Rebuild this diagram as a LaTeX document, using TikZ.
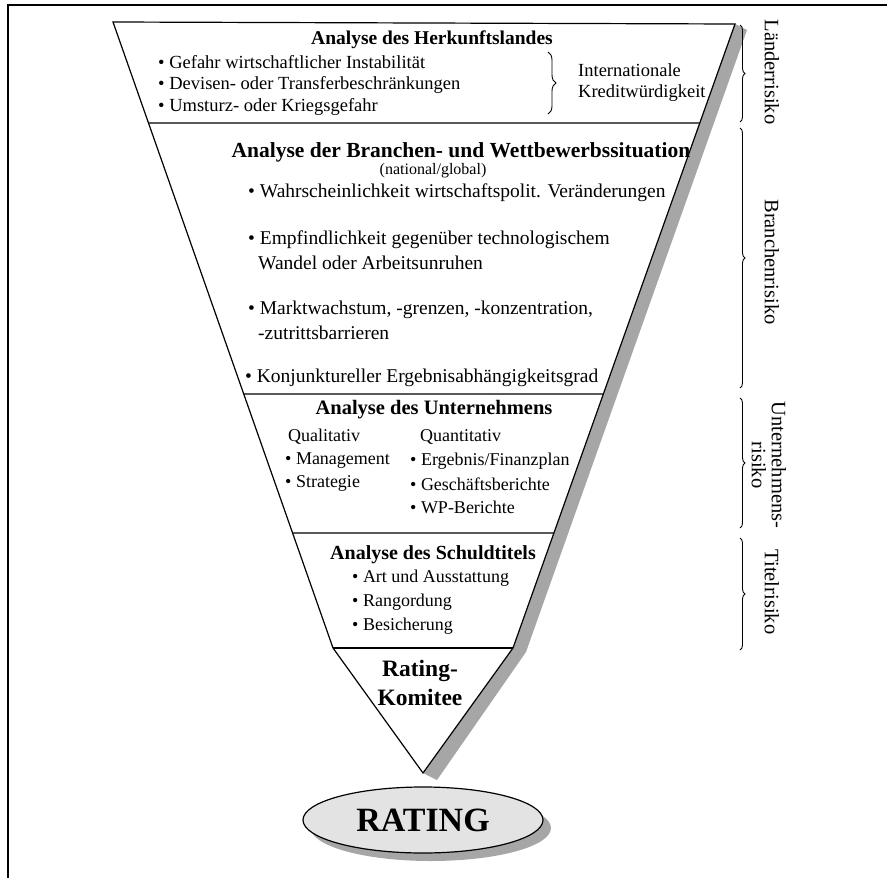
\documentclass[tikz,border=0pt]{standalone}
\usepackage{fontspec}
\setmainfont{Liberation Serif}
\usetikzlibrary{calc,decorations.pathreplacing,shapes.geometric}
\newcommand{\pkt}{\textbullet~}
\tikzset{
  kopf/.style={inner sep=0pt,font=\fontsize{19.5}{22}\selectfont\bfseries},
  punkt/.style={anchor=west,inner sep=0pt,font=\fontsize{18.5}{22}\selectfont},
  punktb/.style={anchor=west,inner sep=0pt,font=\fontsize{19.5}{23}\selectfont},
  seite/.style={rotate=-90,align=center,inner sep=0pt,font=\fontsize{20.5}{20}\selectfont},
  klammer/.style={decorate,decoration={brace,amplitude=5pt},line width=0.9pt},
  linie/.style={line width=1.2pt},
}
\begin{document}
\begin{tikzpicture}[x=1pt,y=-1pt]
  \useasboundingbox (0,0) rectangle (887,878);
  % Rahmen
  \draw[line width=1.3pt] (887,5) -- (8,5) -- (8,878);
  % Trichter mit Schatten
  \coordinate (lo) at (113,22); \coordinate (ro) at (735,24);
  \coordinate (lu) at (333,648); \coordinate (ru) at (513,648);
  \coordinate (sp) at (423,773);
  \fill[gray!70] (ro) -- (747,30) -- (526,652) -- (437,780) -- (sp) -- (ru) -- cycle;
  \draw[linie,fill=white] (lo) -- (ro) -- (ru) -- (sp) -- (lu) -- cycle;
  \foreach \y in {123,394,533}
    \draw[linie] ($(lo)!{(\y-22)/626}!(lu)$) -- ($(ro)!{(\y-24)/624}!(ru)$);
  \draw[linie] (lu) -- (ru);

  % Herkunftsland
  \node[kopf] (land) at (432,40) {Analyse des Herkunftslandes};
  \node[punkt] (l1) at (158,62) {\pkt Gefahr wirtschaftlicher Instabilität};
  \node[punkt] (l2) at (158,85) {\pkt Devisen- oder Transferbeschränkungen};
  \node[punkt] (l3) at (158,107) {\pkt Umsturz- oder Kriegsgefahr};
  \draw[klammer,decoration={amplitude=8pt}] (548,52) -- (548,114);
  \node[punkt] (int) at (578,70) {Internationale};
  \node[punkt] (kred) at (578,93) {Kreditwürdigkeit};

  % Branche
  \node[kopf,font=\fontsize{21.5}{24}\selectfont\bfseries] (branche) at (461,152)
    {Analyse der Branchen- und Wettbewerbssituation};
  \node[inner sep=0pt,font=\fontsize{16}{18}\selectfont] (natgl) at (433,171) {(national/global)};
  \node[punktb] (b1) at (248,193) {\pkt Wahrscheinlichkeit wirtschaftspolit. Veränderungen};
  \node[punktb] (b2) at (248,240) {\pkt Empfindlichkeit gegenüber technologischem};
  \node[punktb] (b2a) at (258,263) {Wandel oder Arbeitsunruhen};
  \node[punktb] (b3) at (248,310) {\pkt Marktwachstum, -grenzen, -konzentration,};
  \node[punktb] (b3a) at (258,333) {-zutrittsbarrieren};
  \node[punktb] (b4) at (245,378) {\pkt Konjunktureller Ergebnisabhängigkeitsgrad};

  % Unternehmen
  \node[kopf,font=\fontsize{20.5}{23}\selectfont\bfseries] (unt) at (434,410) {Analyse des Unternehmens};
  \node[punkt,font=\fontsize{18}{22}\selectfont] (qual) at (288,437) {Qualitativ};
  \node[punkt,font=\fontsize{18}{22}\selectfont] (quan) at (420,437) {Quantitativ};
  \node[punkt,font=\fontsize{18}{22}\selectfont] (u1) at (285,461) {\pkt Management};
  \node[punkt,font=\fontsize{18}{22}\selectfont] (u2) at (285,483) {\pkt Strategie};
  \node[punkt,font=\fontsize{18}{22}\selectfont] (u3) at (410,461) {\pkt Ergebnis/Finanzplan};
  \node[punkt,font=\fontsize{18}{22}\selectfont] (u4) at (410,484) {\pkt Geschäftsberichte};
  \node[punkt,font=\fontsize{18}{22}\selectfont] (u5) at (410,507) {\pkt WP-Berichte};

  % Schuldtitel
  \node[kopf,font=\fontsize{20}{23}\selectfont\bfseries] (titel) at (433,555) {Analyse des Schuldtitels};
  \node[punkt,font=\fontsize{18}{22}\selectfont] (t1) at (352,578) {\pkt Art und Ausstattung};
  \node[punkt,font=\fontsize{18}{22}\selectfont] (t2) at (352,602) {\pkt Rangordung};
  \node[punkt,font=\fontsize{18}{22}\selectfont] (t3) at (352,626) {\pkt Besicherung};

  % Komitee und Rating
  \node[align=center,inner sep=0pt,font=\fontsize{23.5}{29}\selectfont\bfseries] (komitee) at (420,683)
    {Rating-\\Komitee};
  \node[ellipse,fill=gray!70,minimum width=240pt,minimum height=66pt] (schatten) at (431,828) {};
  \node[ellipse,draw,line width=1.2pt,fill=gray!22,minimum width=240pt,minimum height=66pt,
    inner sep=0pt,font=\fontsize{34}{34}\selectfont\bfseries] (rating) at (423,820) {RATING};

  % Risikoarten
  \draw[klammer] (740,25) -- (740,122);
  \draw[klammer] (740,128) -- (740,388);
  \draw[klammer] (740,398) -- (740,528);
  \draw[klammer] (740,538) -- (740,650);
  \node[seite] (lr) at (772,72) {Länderrisiko};
  \node[seite] (br) at (772,262) {Branchenrisiko};
  \node[seite] (ur) at (769,465) {Unternehmens-\\risiko};
  \node[seite] (tr) at (772,592) {Titelrisiko};
\end{tikzpicture}
\end{document}
